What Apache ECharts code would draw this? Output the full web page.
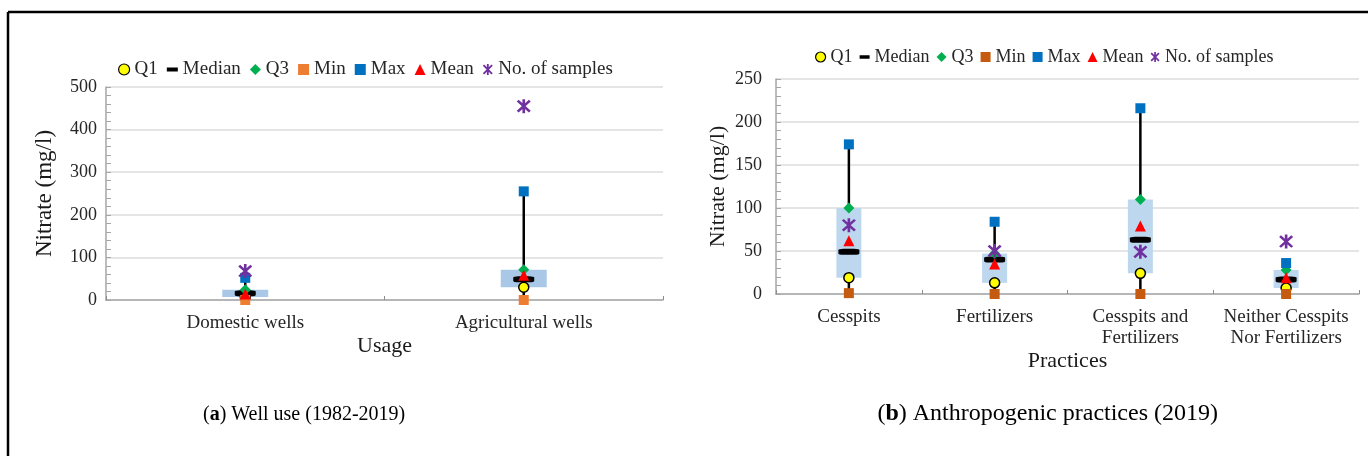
<!DOCTYPE html>
<html>
<head>
<meta charset="utf-8">
<title>Nitrate boxplots</title>
<script src="https://cdn.jsdelivr.net/npm/echarts@6/dist/echarts.min.js"></script>
<style>
  html, body { margin: 0; padding: 0; background: #fff; }
  #chart { width: 1368px; height: 456px; }
</style>
</head>
<body>
<div id="chart"></div>
<script>
// (a) well use
var usageCats = ['Domestic wells', 'Agricultural wells'];
var usageMin = [0, 0];
var usageQ1 = [7, 30];
var usageMedian = [16, 49];
var usageQ3 = [24, 71];
var usageMax = [52, 255];
var usageMean = [14, 58];
var usageSamples = [68, 455];

// (b) anthropogenic practices
var practiceCats = ['Cesspits', 'Fertilizers', 'Cesspits and\nFertilizers', 'Neither Cesspits\nNor Fertilizers'];
var practiceMin = [1, 0, 0, 0];
var practiceQ1 = [19, 13, 24, 7];
var practiceMedian = [49, 40, 63, 17];
var practiceQ3 = [100, 47, 110, 28];
var practiceMax = [174, 84, 216, 36];
var practiceMean = [62, 35, 79, 19];
var practiceSamples = [80, 50, 49, 61];

var FONT = 'Liberation Serif';
// excel style star marker: X plus vertical bar
var starPath = 'path://M8.3 0L11.7 0L11.7 20L8.3 20Z M1 3.4L3.4 1L19 16.6L16.6 19Z M16.6 1L19 3.4L3.4 19L1 16.6Z';
var medianIcon = 'path://M0 0L0.01 0 M0 2.5L14 2.5L14 7.5L0 7.5Z M0 10L0.01 10';

var chart = echarts.init(document.getElementById('chart'), null, {renderer: 'canvas'});

function boxSeries(idx, mins, q1s, q3s, maxs, boxW, fill) {
  var data = mins.map(function (m, i) { return [i, m, q1s[i], q3s[i], maxs[i]]; });
  return {
    type: 'custom', name: 'box', xAxisIndex: idx, yAxisIndex: idx, z: 1,
    encode: {x: 0, y: [1, 2, 3, 4]},
    data: data,
    renderItem: function (params, api) {
      var i = api.value(0);
      var pMin = api.coord([i, api.value(1)]);
      var pQ1 = api.coord([i, api.value(2)]);
      var pQ3 = api.coord([i, api.value(3)]);
      var pMax = api.coord([i, api.value(4)]);
      return {
        type: 'group',
        children: [
          {type: 'line', shape: {x1: pMin[0], y1: pMin[1], x2: pMax[0], y2: pMax[1]},
           style: {stroke: '#000', lineWidth: 2.5}},
          {type: 'rect', shape: {x: pQ1[0] - boxW / 2, y: pQ3[1], width: boxW, height: pQ1[1] - pQ3[1]},
           style: {fill: fill}}
        ]
      };
    }
  };
}

function markerSeries(idx, vals, minColor, starSize) {
  var common = {type: 'scatter', xAxisIndex: idx, yAxisIndex: idx, z: 3};
  return [
    Object.assign({}, common, {name: 'Q1', data: vals.q1, symbol: 'circle', symbolSize: 10,
      itemStyle: {color: '#ffff00', borderColor: '#000', borderWidth: 1.5, opacity: 1}}),
    Object.assign({}, common, {name: 'Median', data: vals.median, symbol: 'roundRect', symbolSize: [21, 6],
      itemStyle: {color: '#000', opacity: 1}}),
    Object.assign({}, common, {name: 'Q3', data: vals.q3, symbol: 'diamond', symbolSize: 11,
      itemStyle: {color: '#00b050', opacity: 1}}),
    Object.assign({}, common, {name: 'Min', data: vals.min, symbol: 'rect', symbolSize: 10,
      itemStyle: {color: minColor, opacity: 1}}),
    Object.assign({}, common, {name: 'Max', data: vals.max, symbol: 'rect', symbolSize: 10,
      itemStyle: {color: '#0070c0', opacity: 1}}),
    Object.assign({}, common, {name: 'Mean', data: vals.mean, symbol: 'triangle', symbolSize: 11,
      itemStyle: {color: '#ff0000', opacity: 1}}),
    Object.assign({}, common, {name: 'No. of samples', data: vals.samples, symbol: starPath, symbolSize: starSize,
      itemStyle: {color: '#7030a0', opacity: 1}})
  ];
}

function legendData(minColor) {
  return [
    {name: 'Q1', icon: 'circle', itemStyle: {color: '#ffff00', borderColor: '#000', borderWidth: 1.2}},
    {name: 'Median', icon: medianIcon, itemStyle: {color: '#000', borderWidth: 0}},
    {name: 'Q3', icon: 'diamond', itemStyle: {color: '#00b050', borderWidth: 0}},
    {name: 'Min', icon: 'rect', itemStyle: {color: minColor, borderWidth: 0}},
    {name: 'Max', icon: 'rect', itemStyle: {color: '#0070c0', borderWidth: 0}},
    {name: 'Mean', icon: 'triangle', itemStyle: {color: '#ff0000', borderWidth: 0}},
    {name: 'No. of samples', icon: starPath, itemStyle: {color: '#7030a0', borderWidth: 0}}
  ];
}

function yAxis(idx, max, interval, gap, nameSize, margin) {
  return {
    type: 'value', gridIndex: idx, min: 0, max: max, interval: interval,
    name: 'Nitrate (mg/l)', nameLocation: 'middle', nameGap: gap,
    nameTextStyle: {fontFamily: FONT, fontSize: nameSize, color: '#1a1a1a'},
    axisLine: {show: true, lineStyle: {color: '#a6a6a6', width: 1.5}},
    axisTick: {show: true, inside: true, length: 5, lineStyle: {color: '#a6a6a6'}},
    minorTick: {show: true, splitNumber: 5, length: 5, lineStyle: {color: '#a6a6a6'}},
    splitLine: {show: true, lineStyle: {color: '#dcdcdc', width: 1.5}},
    axisLabel: {fontFamily: FONT, fontSize: 18, color: '#262626', margin: margin}
  };
}

function xAxis(idx, cats, name, gap) {
  return {
    type: 'category', gridIndex: idx, data: cats,
    name: name, nameLocation: 'middle', nameGap: gap,
    nameTextStyle: {fontFamily: FONT, fontSize: 22, color: '#1a1a1a'},
    axisLine: {show: true, lineStyle: {color: '#a6a6a6', width: 1.5}},
    axisTick: {show: true, inside: true, length: 4, lineStyle: {color: '#8c8c8c'}},
    splitLine: {show: false},
    axisLabel: {fontFamily: FONT, fontSize: 19, color: '#262626', margin: 13, lineHeight: 21, interval: 0}
  };
}

var option = {
  animation: false,
  backgroundColor: '#fff',
  grid: [
    {left: 106, top: 87, width: 557, height: 213},
    {left: 776, top: 79, width: 583, height: 215}
  ],
  legend: [
    {data: legendData('#ed7d31'), left: 113, top: 55, itemWidth: 11, itemHeight: 11, itemGap: 9,
     textStyle: {fontFamily: FONT, fontSize: 19, color: '#262626'}, selectedMode: false},
    {data: legendData('#c55a11'), left: 810, top: 43, itemWidth: 10, itemHeight: 10, itemGap: 7,
     textStyle: {fontFamily: FONT, fontSize: 18, color: '#262626'}, selectedMode: false}
  ],
  xAxis: [
    xAxis(0, usageCats, 'Usage', 33),
    xAxis(1, practiceCats, 'Practices', 53)
  ],
  yAxis: [
    yAxis(0, 500, 100, 50, 23, 9),
    yAxis(1, 250, 50, 47, 22, 14)
  ],
  graphic: [
    {type: 'line', shape: {x1: 8, y1: 12, x2: 1368, y2: 12}, style: {stroke: '#000', lineWidth: 2.5}},
    {type: 'line', shape: {x1: 8, y1: 12, x2: 8, y2: 456}, style: {stroke: '#000', lineWidth: 2.5}},
    {type: 'text', left: 203, top: 405, style: {
      text: '{b|(}{bb|a}{b|) Well use (1982-2019)}',
      rich: {b: {fontFamily: FONT, fontSize: 20, fill: '#000'},
             bb: {fontFamily: FONT, fontSize: 20, fontWeight: 'bold', fill: '#000'}}}},
    {type: 'text', right: 150, top: 402, style: {
      text: '{b|(}{bb|b}{b|) Anthropogenic practices (2019)}',
      rich: {b: {fontFamily: FONT, fontSize: 24, fill: '#000'},
             bb: {fontFamily: FONT, fontSize: 24, fontWeight: 'bold', fill: '#000'}}}}
  ],
  series: [].concat(
    [boxSeries(0, usageMin, usageQ1, usageQ3, usageMax, 46, '#a9c8e8')],
    markerSeries(0, {q1: usageQ1, median: usageMedian, q3: usageQ3, min: usageMin, max: usageMax,
      mean: usageMean, samples: usageSamples}, '#ed7d31', 14),
    [boxSeries(1, practiceMin, practiceQ1, practiceQ3, practiceMax, 25, '#bdd7ee')],
    markerSeries(1, {q1: practiceQ1, median: practiceMedian, q3: practiceQ3, min: practiceMin, max: practiceMax,
      mean: practiceMean, samples: practiceSamples}, '#c55a11', 14)
  )
};

chart.setOption(option);
</script>
</body>
</html>
